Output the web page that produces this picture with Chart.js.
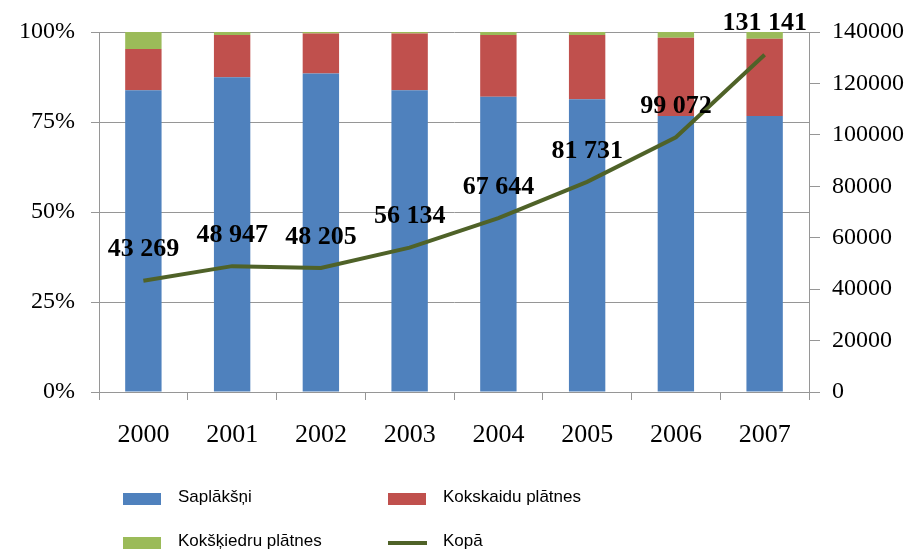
<!DOCTYPE html>
<html lang="lv">
<head>
  <meta charset="UTF-8">
  <title>Saplākšņi un plātnes</title>
  <script src="https://cdn.jsdelivr.net/npm/chart.js"></script>
  <style>
    body { margin: 0; background: #fff; }
    #wrap { width: 918px; height: 552px; position: relative; }
  </style>
</head>
<body>
  <div id="wrap"><canvas id="myChart" width="918" height="552"></canvas></div>

  <script>
    // data
    const years = ["2000", "2001", "2002", "2003", "2004", "2005", "2006", "2007"];
    const saplaksni = [83.8, 87.4, 88.5, 83.8, 82.0, 81.3, 76.7, 76.7];   // % share
    const kokskaidu = [11.5, 11.8, 11.1, 15.8, 17.2, 17.9, 21.7, 21.4];   // % share
    const koksķiedru = [4.7, 0.8, 0.4, 0.4, 0.8, 0.8, 1.6, 1.9];          // % share
    const kopa = [43269, 48947, 48205, 56134, 67644, 81731, 99072, 131141];

    const serif = "'Liberation Serif', serif";
    const legendFont = "17px 'Liberation Sans', sans-serif";
    const gridGray = "#969696";

    // thousands with a space: 43 269
    function fmt(v) {
      return String(v).replace(/\B(?=(\d{3})+(?!\d))/g, " ");
    }

    // bold value labels above the line points
    const lineLabels = {
      id: "lineLabels",
      afterDatasetsDraw(chart) {
        const meta = chart.getDatasetMeta(3);
        const ctx = chart.ctx;
        ctx.save();
        ctx.font = "bold 26px " + serif;
        ctx.fillStyle = "#000";
        ctx.textAlign = "center";
        ctx.textBaseline = "middle";
        meta.data.forEach((pt, i) => {
          ctx.fillText(fmt(kopa[i]), pt.x, pt.y - 31);
        });
        ctx.restore();
      }
    };

    // two-column legend under the chart
    const gridLegend = {
      id: "gridLegend",
      afterDraw(chart) {
        const ctx = chart.ctx;
        const slots = [
          { x: 123, y: 499 }, { x: 388, y: 499 },
          { x: 123, y: 543 }, { x: 388, y: 543 }
        ];
        ctx.save();
        ctx.font = legendFont;
        ctx.textBaseline = "middle";
        chart.data.datasets.forEach((ds, i) => {
          const s = slots[i];
          if (ds.type === "line") {
            ctx.fillStyle = ds.borderColor;
            ctx.fillRect(s.x, s.y - 2, 39, 4);
          } else {
            ctx.fillStyle = ds.backgroundColor;
            ctx.fillRect(s.x, s.y - 6, 38, 12);
          }
          ctx.fillStyle = "#000";
          ctx.fillText(ds.label, s.x + 55, s.y - 2);
        });
        ctx.restore();
      }
    };

    function draw() {
      const ctx = document.getElementById("myChart").getContext("2d");
      new Chart(ctx, {
        type: "bar",
        data: {
          labels: years,
          datasets: [
            { label: "Saplākšņi", data: saplaksni, backgroundColor: "#4F81BD", stack: "s", order: 1 },
            { label: "Kokskaidu plātnes", data: kokskaidu, backgroundColor: "#C0504D", stack: "s", order: 1 },
            { label: "Kokšķiedru plātnes", data: koksķiedru, backgroundColor: "#9BBB59", stack: "s", order: 1 },
            {
              type: "line",
              label: "Kopā",
              data: kopa,
              yAxisID: "y1",
              borderColor: "#4F6228",
              backgroundColor: "#4F6228",
              borderWidth: 4,
              pointRadius: 0,
              tension: 0,
              order: 0
            }
          ]
        },
        options: {
          responsive: false,
          animation: false,
          layout: { padding: { top: 32, bottom: 100, left: 0, right: 0 } },
          datasets: { bar: { categoryPercentage: 1, barPercentage: 0.41 } },
          plugins: { legend: { display: false }, tooltip: { enabled: false } },
          scales: {
            x: {
              stacked: true,
              grid: { display: true, drawOnChartArea: false, offset: true, tickLength: 8, color: gridGray },
              border: { color: gridGray },
              ticks: { color: "#000", font: { family: serif, size: 26 }, padding: 20 },
              afterFit: (s) => { s.height = 60; }
            },
            y: {
              stacked: true,
              position: "left",
              min: 0,
              max: 100,
              grid: { color: gridGray, tickLength: 8 },
              border: { color: gridGray },
              ticks: {
                stepSize: 25,
                color: "#000",
                font: { family: serif, size: 24 },
                padding: 16,
                callback: (v) => v + "%"
              },
              afterFit: (s) => { s.width = 99; }
            },
            y1: {
              position: "right",
              stacked: false,
              min: 0,
              max: 140000,
              grid: { drawOnChartArea: false, color: gridGray, tickLength: 11 },
              border: { color: gridGray },
              ticks: {
                stepSize: 20000,
                color: "#000",
                font: { family: serif, size: 24 },
                padding: 12,
                callback: (v) => String(v)
              },
              afterFit: (s) => { s.width = 109; }
            }
          }
        },
        plugins: [lineLabels, gridLegend]
      });
    }

    // make sure the installed fonts are ready before the canvas is painted
    Promise.all([
      document.fonts.load("24px 'Liberation Serif'"),
      document.fonts.load("bold 26px 'Liberation Serif'"),
      document.fonts.load(legendFont)
    ]).then(draw, draw);
  </script>
</body>
</html>
